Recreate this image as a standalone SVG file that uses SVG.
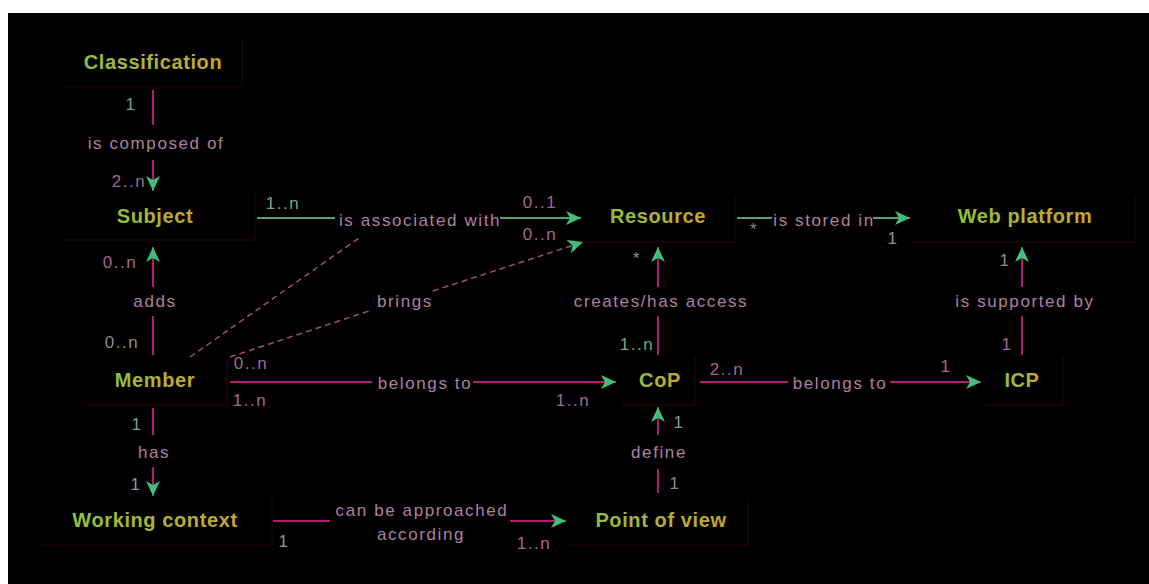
<svg xmlns="http://www.w3.org/2000/svg" width="1149" height="584" viewBox="0 0 1149 584">
<defs>
<linearGradient id="ng" x1="0" y1="0" x2="1" y2="0">
<stop offset="0" stop-color="#8dbf3c"/>
<stop offset="0.5" stop-color="#b0b235"/>
<stop offset="1" stop-color="#c9a42c"/>
</linearGradient>
<marker id="ar" markerUnits="userSpaceOnUse" markerWidth="16" markerHeight="14" refX="15" refY="7" orient="auto" viewBox="0 0 16 14">
<path d="M0,0 L15,7 L0,14 L4,7 z" fill="#3fbf7a"/>
</marker>
<style>
.bg{fill:#000}
.box{stroke:#260606;stroke-width:1;fill:none}
.nt{font-family:"Liberation Sans",Arial,sans-serif;font-weight:bold;font-size:20px;letter-spacing:0.6px;fill:url(#ng);text-anchor:middle}
.m{stroke:#b01c72;stroke-width:2;fill:none}
.g{stroke:#5f9e6c;stroke-width:2;fill:none}
.d{stroke:#9c4f7c;stroke-width:1.5;stroke-dasharray:6 4;fill:none}
.lb{font-family:"Liberation Sans",Arial,sans-serif;font-size:17px;letter-spacing:1.6px;fill:#ad809f;text-anchor:middle}
.mu{font-family:"Liberation Sans",Arial,sans-serif;font-size:17px;letter-spacing:1.5px;fill:#8f8a8e;text-anchor:middle}
.mg{fill:#7ea08a}
.mp{fill:#a0698f}
</style>
</defs>
<rect x="0" y="0" width="1149" height="584" fill="#fff"/>
<rect class="bg" x="8" y="13" width="1141" height="571"/>

<g id="node-classification">
<path class="box" d="M65,87 H242 V40"/>
<text class="nt" x="153" y="69">Classification</text>
</g>
<g id="node-subject">
<path class="box" d="M60,240 H255 V192"/>
<text class="nt" x="155" y="223">Subject</text>
</g>
<g id="node-resource">
<path class="box" d="M575,242 H735 V195"/>
<text class="nt" x="658" y="223">Resource</text>
</g>
<g id="node-webplatform">
<path class="box" d="M910,242 H1135 V195"/>
<text class="nt" x="1025" y="223">Web platform</text>
</g>
<g id="node-member">
<path class="box" d="M82,405 H227 V357"/>
<text class="nt" x="155" y="387">Member</text>
</g>
<g id="node-cop">
<path class="box" d="M620,405 H695 V357"/>
<text class="nt" x="660" y="387">CoP</text>
</g>
<g id="node-icp">
<path class="box" d="M985,405 H1063 V357"/>
<text class="nt" x="1022" y="387">ICP</text>
</g>
<g id="node-workingcontext">
<path class="box" d="M40,545 H272 V498"/>
<text class="nt" x="155" y="527">Working context</text>
</g>
<g id="node-pointofview">
<path class="box" d="M568,545 H748 V498"/>
<text class="nt" x="661" y="527">Point of view</text>
</g>

<g id="connectors">
<line class="m" x1="153" y1="90" x2="153" y2="125"/>
<text class="lb" x="156" y="149">is composed of</text>
<line class="m" x1="153" y1="160" x2="153" y2="191" marker-end="url(#ar)"/>
<text class="mu mg" x="131" y="110">1</text>
<text class="mu mp" x="129" y="187">2..n</text>

<line class="g" x1="257" y1="218" x2="335" y2="218"/>
<text class="lb" x="420" y="226">is associated with</text>
<line class="g" x1="500" y1="218" x2="581" y2="218" marker-end="url(#ar)"/>
<text class="mu mg" x="283" y="209">1..n</text>
<text class="mu mp" x="540" y="208">0..1</text>
<text class="mu mp" x="540" y="240">0..n</text>

<line class="g" x1="737" y1="218" x2="772" y2="218"/>
<text class="lb" x="824" y="226">is stored in</text>
<line class="g" x1="873" y1="218" x2="910" y2="218" marker-end="url(#ar)"/>
<text class="mu" x="754" y="235">*</text>
<text class="mu mg" x="893" y="244">1</text>

<line class="m" x1="153" y1="355" x2="153" y2="316"/>
<text class="lb" x="155" y="307">adds</text>
<line class="m" x1="153" y1="287" x2="153" y2="247" marker-end="url(#ar)"/>
<text class="mu mp" x="120" y="268">0..n</text>
<text class="mu" x="122" y="348">0..n</text>

<line class="d" x1="190" y1="357" x2="362" y2="236"/>

<line class="d" x1="230" y1="357" x2="372" y2="310"/>
<text class="lb" x="405" y="307">brings</text>
<line class="d" x1="433" y1="291" x2="583" y2="242" marker-end="url(#ar)"/>

<line class="m" x1="230" y1="382" x2="372" y2="382"/>
<text class="lb" x="425" y="389">belongs to</text>
<line class="m" x1="473" y1="382" x2="616" y2="382" marker-end="url(#ar)"/>
<text class="mu mp" x="251" y="369">0..n</text>
<text class="mu mp" x="250" y="406">1..n</text>
<text class="mu mp" x="573" y="406">1..n</text>

<line class="m" x1="658" y1="355" x2="658" y2="316"/>
<text class="lb" x="661" y="307">creates/has access</text>
<line class="m" x1="658" y1="287" x2="658" y2="247" marker-end="url(#ar)"/>
<text class="mu" x="637" y="264">*</text>
<text class="mu mg" x="637" y="350">1..n</text>

<line class="m" x1="700" y1="382" x2="788" y2="382"/>
<text class="lb" x="840" y="389">belongs to</text>
<line class="m" x1="890" y1="382" x2="981" y2="382" marker-end="url(#ar)"/>
<text class="mu mp" x="727" y="375">2..n</text>
<text class="mu mp" x="946" y="372">1</text>

<line class="m" x1="1022" y1="355" x2="1022" y2="316"/>
<text class="lb" x="1025" y="307">is supported by</text>
<line class="m" x1="1022" y1="287" x2="1022" y2="247" marker-end="url(#ar)"/>
<text class="mu" x="1005" y="266">1</text>
<text class="mu mp" x="1007" y="350">1</text>

<line class="m" x1="153" y1="408" x2="153" y2="435"/>
<text class="lb" x="154" y="458">has</text>
<line class="m" x1="153" y1="467" x2="153" y2="496" marker-end="url(#ar)"/>
<text class="mu mg" x="137" y="430">1</text>
<text class="mu mg" x="136" y="490">1</text>

<line class="m" x1="273" y1="521" x2="330" y2="521"/>
<text class="lb" x="422" y="516">can be approached</text>
<text class="lb" x="421" y="540">according</text>
<line class="m" x1="510" y1="521" x2="566" y2="521" marker-end="url(#ar)"/>
<text class="mu mg" x="284" y="547">1</text>
<text class="mu mp" x="534" y="549">1..n</text>

<line class="m" x1="658" y1="493" x2="658" y2="469"/>
<text class="lb" x="659" y="458">define</text>
<line class="m" x1="658" y1="435" x2="658" y2="407" marker-end="url(#ar)"/>
<text class="mu mg" x="679" y="428">1</text>
<text class="mu" x="675" y="489">1</text>
</g>
</svg>
